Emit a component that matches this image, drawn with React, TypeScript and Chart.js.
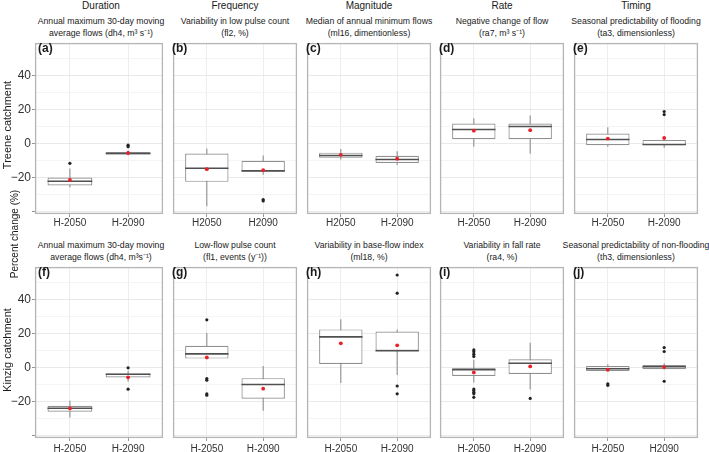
import React, { useEffect, useRef } from 'react';
import { Chart, registerables } from 'chart.js';
Chart.register(...registerables);

const FONT = '"Liberation Sans", Arial, Helvetica, sans-serif';
Chart.defaults.font.family = FONT;

// ---------------- data ----------------
const columnHeaders = ['Duration', 'Frequency', 'Magnitude', 'Rate', 'Timing'];
const panelTags = ['(a)', '(b)', '(c)', '(d)', '(e)', '(f)', '(g)', '(h)', '(i)', '(j)'];
const panelTitles = [
  ['Annual maximum 30-day moving', 'average flows (dh4, m\u00B3 s\u207B\u00B9)'],
  ['Variability in low pulse count', '(fl2, %)'],
  ['Median of annual minimum flows', '(ml16, dimentionless)'],
  ['Negative change of flow', '(ra7, m\u00B3 s\u207B\u00B9)'],
  ['Seasonal predictability of flooding', '(ta3, dimensionless)'],
  ['Annual maximum 30-day moving', 'average flows (dh4, m\u00B3s\u207B\u00B9)'],
  ['Low-flow pulse count', '(fl1, events (y\u207B\u00B9))'],
  ['Variability in base-flow index', '(ml18, %)'],
  ['Variability in fall rate', '(ra4, %)'],
  ['Seasonal predictability of non-flooding', '(th3, dimensionless)'],
];
const categories = [
  ['H-2050', 'H-2090'],
  ['H2050', 'H2090'],
  ['H2050', 'H-2090'],
  ['H-2050', 'H-2090'],
  ['H-2050', 'H-2090'],
  ['H-2050', 'H-2090'],
  ['H-2050', 'H-2090'],
  ['H-2050', 'H-2090'],
  ['H-2050', 'H-2090'],
  ['H-2050', 'H2090'],
];
const whiskerLow = [
  [-25.7, -6.8], [-36.8, -18.2], [-9.2, -12.5], [-1.7, -5.9], [-1.7, -2.3],
  [-29.3, -8.0], [5.0, -25.3], [-9.0, -4.2], [-8.6, -12.8], [-2.3, -1.0],
];
const quartile1 = [
  [-24.5, -6.3], [-22.4, -16.3], [-8.2, -11.3], [2.7, 2.7], [-0.8, -0.8],
  [-25.9, -5.7], [5.4, -18.2], [2.3, 10.0], [-4.8, -3.6], [-1.9, -0.8],
];
const medians = [
  [-22.0, -5.7], [-14.4, -15.9], [-6.9, -9.2], [8.4, 10.2], [2.5, -0.4],
  [-23.8, -3.8], [8.2, -9.8], [18.2, 10.0], [-1.1, 2.7], [-0.6, 0.6],
];
const quartile3 = [
  [-19.9, -4.8], [-5.7, -10.0], [-5.2, -7.1], [11.9, 11.9], [6.1, 2.3],
  [-22.4, -3.4], [13.0, -6.1], [22.6, 21.3], [-0.2, 5.0], [1.0, 1.7],
];
const whiskerHigh = [
  [-14.6, -4.0], [-2.7, -6.9], [-3.1, -4.4], [15.1, 16.7], [9.8, 2.3],
  [-19.3, -1.7], [20.5, 1.0], [28.5, 22.6], [4.8, 14.8], [2.1, 2.7],
];
const means = [
  [-21.3, -5.4], [-14.9, -15.5], [-6.5, -8.8], [7.7, 8.0], [3.1, 3.4],
  [-23.9, -5.6], [6.1, -12.3], [14.4, 13.2], [-2.7, 0.8], [-1.1, 0.4],
];
const outliers = [
  [[-11.5], [-0.8, -1.7]],
  [[], [-32.8, -33.6]],
  [[], []],
  [[], []],
  [[], [19.0, 17.2]],
  [[], [0.0, -12.6]],
  [[28.2, -6.3, -7.3, -15.3, -16.1], []],
  [[], [54.6, 43.9, -10.7, -15.3]],
  [[10.5, 9.4, 8.0, 6.7, -12.5, -13.4, -14.4, -15.3, -17.4], [-18.0]],
  [[-9.4, -10.3], [11.9, 9.6, -7.9]],
];
const yTickValues = [-40, -30, -20, -10, 0, 10, 20, 30, 40, 50];
const yLabelledTicks = [-20, 0, 20, 40];
const Y_MIN = -41.3;
const Y_MAX = 59.3;

// ---------------- layout ----------------
const PANEL_LEFT = [35, 169, 303, 436, 570];
const PANEL_W = 132;
const PANEL_H = 175;
const ROW_TOP = [39, 263];
const X_AXIS_H = [14, 16];
const X_PAD = [0, 2];
const SUB_TOP = [15, 239];
const Y_AXIS_W = 35;

const boxPlugin = {
  id: 'boxExtras',
  beforeDatasetDraw(chart: any, args: any, opts: any) {
    if (args.index !== 2) return;
    const p = opts.panel;
    const meta = chart.getDatasetMeta(2);
    const ys = chart.scales.y;
    const ctx = chart.ctx;
    ctx.save();
    ctx.strokeStyle = '#8f8f8f';
    ctx.lineWidth = 1.1;
    meta.data.forEach((bar: any, j: number) => {
      ctx.beginPath();
      ctx.moveTo(bar.x, ys.getPixelForValue(whiskerLow[p][j]));
      ctx.lineTo(bar.x, ys.getPixelForValue(whiskerHigh[p][j]));
      ctx.stroke();
    });
    ctx.restore();
  },
  afterDatasetDraw(chart: any, args: any, opts: any) {
    if (args.index !== 2) return;
    const p = opts.panel;
    const meta = chart.getDatasetMeta(2);
    const ys = chart.scales.y;
    const ctx = chart.ctx;
    ctx.save();
    ctx.strokeStyle = '#505050';
    ctx.lineWidth = 1.6;
    meta.data.forEach((bar: any, j: number) => {
      const y = ys.getPixelForValue(medians[p][j]);
      ctx.beginPath();
      ctx.moveTo(bar.x - bar.width / 2, y);
      ctx.lineTo(bar.x + bar.width / 2, y);
      ctx.stroke();
    });
    ctx.restore();
  },
  afterDraw(chart: any) {
    const ca = chart.chartArea;
    const ctx = chart.ctx;
    ctx.save();
    ctx.strokeStyle = '#b5b5b5';
    ctx.lineWidth = 1.3;
    ctx.strokeRect(ca.left + 0.6, ca.top + 0.6, ca.right - ca.left - 1.2, ca.bottom - ca.top - 1.2);
    ctx.restore();
  },
};

function Panel({ p }: { p: number }) {
  const ref = useRef<HTMLCanvasElement>(null);
  const row = Math.floor(p / 5);
  const col = p % 5;
  const showY = col === 0;
  const yW = showY ? Y_AXIS_W : 0;
  const width = yW + PANEL_W;
  const height = PANEL_H + X_AXIS_H[row];
  const left = PANEL_LEFT[col] - yW;
  const top = ROW_TOP[row];

  useEffect(() => {
    const meanPts = means[p].map((v, j) => ({ x: j + 1, y: v }));
    const outPts: { x: number; y: number }[] = [];
    outliers[p].forEach((arr, j) => arr.forEach((v) => outPts.push({ x: j + 1, y: v })));
    const boxes = quartile1[p].map((q1, j) => ({ x: j + 1, y: [q1, quartile3[p][j]] }));

    const chart = new Chart(ref.current as HTMLCanvasElement, {
      type: 'bar',
      data: {
        datasets: [
          {
            type: 'scatter',
            data: meanPts,
            pointRadius: 1.9,
            pointBackgroundColor: '#e8202a',
            pointBorderWidth: 0,
            backgroundColor: '#e8202a',
          } as any,
          {
            type: 'scatter',
            data: outPts,
            pointRadius: 1.6,
            pointBackgroundColor: '#222222',
            pointBorderWidth: 0,
            backgroundColor: '#222222',
          } as any,
          {
            type: 'bar',
            data: boxes,
            backgroundColor: '#ffffff',
            borderColor: '#8f8f8f',
            borderWidth: 1.2,
            borderSkipped: false,
            barPercentage: 0.77,
            categoryPercentage: 1,
          } as any,
        ],
      },
      options: {
        animation: false,
        responsive: false,
        maintainAspectRatio: false,
        events: [],
        layout: { padding: 0 },
        plugins: {
          legend: { display: false },
          tooltip: { enabled: false },
          boxExtras: { panel: p },
        } as any,
        scales: {
          x: {
            type: 'linear',
            min: 0.4,
            max: 2.6,
            offset: false,
            afterBuildTicks: (s: any) => {
              s.ticks = [{ value: 1 }, { value: 2 }];
            },
            afterFit: (s: any) => {
              s.height = X_AXIS_H[row];
              s.paddingLeft = 0;
              s.paddingRight = 0;
            },
            ticks: {
              callback: (v: any) => categories[p][Number(v) - 1],
              font: { size: 10 },
              color: '#333333',
              padding: X_PAD[row],
              maxRotation: 0,
              autoSkip: false,
            },
            grid: { color: '#ebebeb', lineWidth: 0.9, tickColor: '#8a8a8a', tickLength: 3, offset: false },
            border: { display: false },
          },
          y: {
            type: 'linear',
            min: Y_MIN,
            max: Y_MAX,
            afterBuildTicks: (s: any) => {
              s.ticks = yTickValues.map((v) => ({ value: v }));
            },
            afterFit: (s: any) => {
              s.width = yW;
              s.paddingTop = 0;
              s.paddingBottom = 0;
            },
            ticks: {
              display: showY,
              callback: (v: any) => (yLabelledTicks.includes(Number(v)) ? String(v).replace('-', '\u2212') : ''),
              font: { size: 12 },
              color: '#333333',
              padding: 1,
            },
            grid: {
              color: (c: any) => (c.tick && c.tick.value % 20 === 0 ? '#e6e6e6' : '#f3f3f3'),
              lineWidth: 0.9,
              drawTicks: showY,
              tickLength: 3,
              tickColor: (c: any) => (c.tick && c.tick.value % 20 === 0 ? '#8a8a8a' : 'rgba(0,0,0,0)'),
            },
            border: { display: false },
          },
        } as any,
      },
      plugins: [boxPlugin],
    });
    return () => chart.destroy();
  }, [p]);

  return (
    <canvas
      ref={ref}
      width={width}
      height={height}
      style={{ position: 'absolute', left, top, width, height }}
    />
  );
}

function VText({ text, cx, cy, size }: { text: string; cx: number; cy: number; size: number }) {
  return (
    <div
      style={{
        position: 'absolute',
        left: cx,
        top: cy,
        transform: 'translate(-50%, -50%) rotate(-90deg)',
        whiteSpace: 'nowrap',
        fontSize: size,
        lineHeight: `${size + 2}px`,
        color: '#1a1a1a',
      }}
    >
      {text}
    </div>
  );
}

export default function App() {
  const panels = [0, 1, 2, 3, 4, 5, 6, 7, 8, 9];
  return (
    <div
      style={{
        position: 'absolute',
        left: 0,
        top: 0,
        width: 709,
        height: 452,
        background: '#ffffff',
        fontFamily: FONT,
        color: '#1a1a1a',
        overflow: 'hidden',
      }}
    >
      {columnHeaders.map((h, c) => (
        <div
          key={'h' + c}
          style={{
            position: 'absolute',
            left: PANEL_LEFT[c],
            width: PANEL_W,
            top: 0,
            textAlign: 'center',
            fontSize: 10,
            lineHeight: '11px',
            whiteSpace: 'nowrap',
          }}
        >
          {h}
        </div>
      ))}
      {panelTitles.map((t, i) => {
        const row = Math.floor(i / 5);
        const col = i % 5;
        return (
          <div
            key={'t' + i}
            style={{
              position: 'absolute',
              left: PANEL_LEFT[col] + PANEL_W / 2,
              top: SUB_TOP[row],
              transform: 'translateX(-50%)',
              textAlign: 'center',
              fontSize: 8.7,
              lineHeight: '12px',
              whiteSpace: 'nowrap',
              color: '#222222',
            }}
          >
            {t[0]}
            <br />
            {t[1]}
          </div>
        );
      })}
      {panels.map((p) => (
        <Panel key={'p' + p} p={p} />
      ))}
      {panelTags.map((t, i) => {
        const row = Math.floor(i / 5);
        const col = i % 5;
        return (
          <div
            key={'g' + i}
            style={{
              position: 'absolute',
              left: PANEL_LEFT[col] + 3,
              top: ROW_TOP[row] + 3,
              fontSize: 12,
              fontWeight: 'bold',
              lineHeight: '12px',
              color: '#1a1a1a',
            }}
          >
            {t}
          </div>
        );
      })}
      <VText text="Treene catchment" cx={6.5} cy={125} size={11} />
      <VText text="Percent change (%)" cx={14.5} cy={234} size={10} />
      <VText text="Kinzig catchment" cx={7} cy={350} size={11} />
    </div>
  );
}
